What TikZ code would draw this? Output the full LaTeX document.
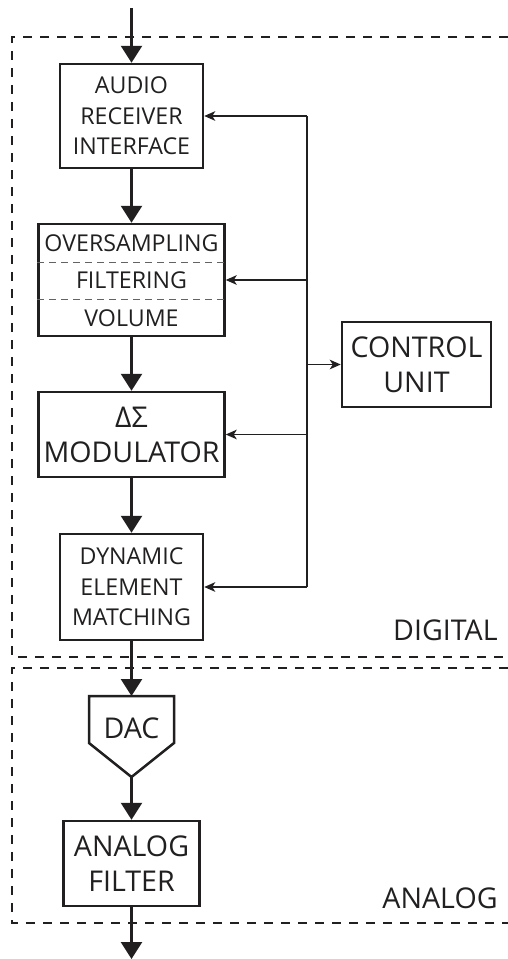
\documentclass[tikz,border=0pt]{standalone}
\usepackage{fontspec}
\setmainfont{Open Sans}
\usetikzlibrary{arrows.meta}
\definecolor{ink}{rgb}{0.13,0.12,0.12}
\begin{document}
\begin{tikzpicture}[x=0.5pt,y=-0.5pt,
  every node/.style={text=ink},
  blk/.style={draw=ink, line width=1.25pt, inner sep=0pt, align=center},
  small/.style={font=\fontsize{11.6}{15.25}\selectfont},
  large/.style={font=\fontsize{14.3}{17.5}\selectfont},
  flow/.style={draw=ink, line width=1.25pt, -{Triangle[length=8.5pt,width=10.5pt]}},
  ctl/.style={draw=ink, line width=0.7pt},
  ctlarrow/.style={ctl, -{Stealth[length=5.5pt,width=4.8pt,inset=1.5pt]}},
  zone/.style={draw=ink, dash pattern=on 4.5pt off 4pt, line width=1pt},
  divider/.style={draw=ink!70, dash pattern=on 3.5pt off 2.5pt, line width=0.5pt},
  zonelabel/.style={anchor=east, inner sep=0pt, large}
]
\useasboundingbox (0,0) rectangle (508,959);

% domain outlines
\draw[zone] (508,37) -- (12,37) -- (12,657) -- (508,657);
\draw[zone] (508,668) -- (12,668) -- (12,923) -- (508,923);
\node[zonelabel] (digital) at (498,630) {DIGITAL};
\node[zonelabel] (analog) at (498,898) {ANALOG};

% digital signal chain
\node[blk, small, minimum width=71.5pt, minimum height=52pt] (ari) at (131.5,116)
  {AUDIO\\RECEIVER\\INTERFACE};
\node[blk, minimum width=93pt, minimum height=56pt] (ovs) at (131.5,280) {};
\draw[divider] (ovs.west |- 0,262) -- (ovs.east |- 0,262);
\draw[divider] (ovs.west |- 0,299) -- (ovs.east |- 0,299);
\node[small, inner sep=0pt] (ovs1) at (131.5,243) {OVERSAMPLING};
\node[small, inner sep=0pt] (ovs2) at (131.5,280.5) {FILTERING};
\node[small, inner sep=0pt] (ovs3) at (131.5,318) {VOLUME};
\node[blk, large, minimum width=93pt, minimum height=42.5pt] (dsm) at (131.5,434.5)
  {ΔΣ\\MODULATOR};
\node[blk, small, minimum width=71.5pt, minimum height=53pt] (dem) at (131.5,587)
  {DYNAMIC\\ELEMENT\\MATCHING};
\node[blk, large, minimum width=74.5pt, minimum height=42.5pt] (cu) at (416.5,364.5)
  {CONTROL\\UNIT};

% analog part
\draw[draw=ink, line width=1.25pt, line join=miter]
  (89,696) -- (174,696) -- (174,743) -- (131.5,777) -- (89,743) -- cycle;
\node[large, inner sep=0pt] (dac) at (131.5,728) {DAC};
\coordinate (dactop) at (131.5,696);
\coordinate (dactip) at (131.5,777);
\node[blk, large, minimum width=68pt, minimum height=42.5pt] (af) at (131.5,863.5)
  {ANALOG\\FILTER};

% signal flow
\coordinate (in) at (131.5,8);
\coordinate (out) at (131.5,959);
\draw[flow] (in) -- (ari);
\draw[flow] (ari) -- (ovs);
\draw[flow] (ovs) -- (dsm);
\draw[flow] (dsm) -- (dem);
\draw[flow] (dem) -- (dactop);
\draw[flow] (dactip) -- (af);
\draw[flow] (af) -- (out);

% control bus
\coordinate (bus) at (307,0);
\draw[ctl] (ari.east -| bus) -- (dem.east -| bus);
\draw[ctlarrow] (ari.east -| bus) -- (ari.east);
\draw[ctlarrow] (ovs.east -| bus) -- (ovs.east);
\draw[ctlarrow] (dsm.east -| bus) -- (dsm.east);
\draw[ctlarrow] (dem.east -| bus) -- (dem.east);
\draw[ctlarrow] (cu.west -| bus) -- (cu.west);
\end{tikzpicture}
\end{document}
